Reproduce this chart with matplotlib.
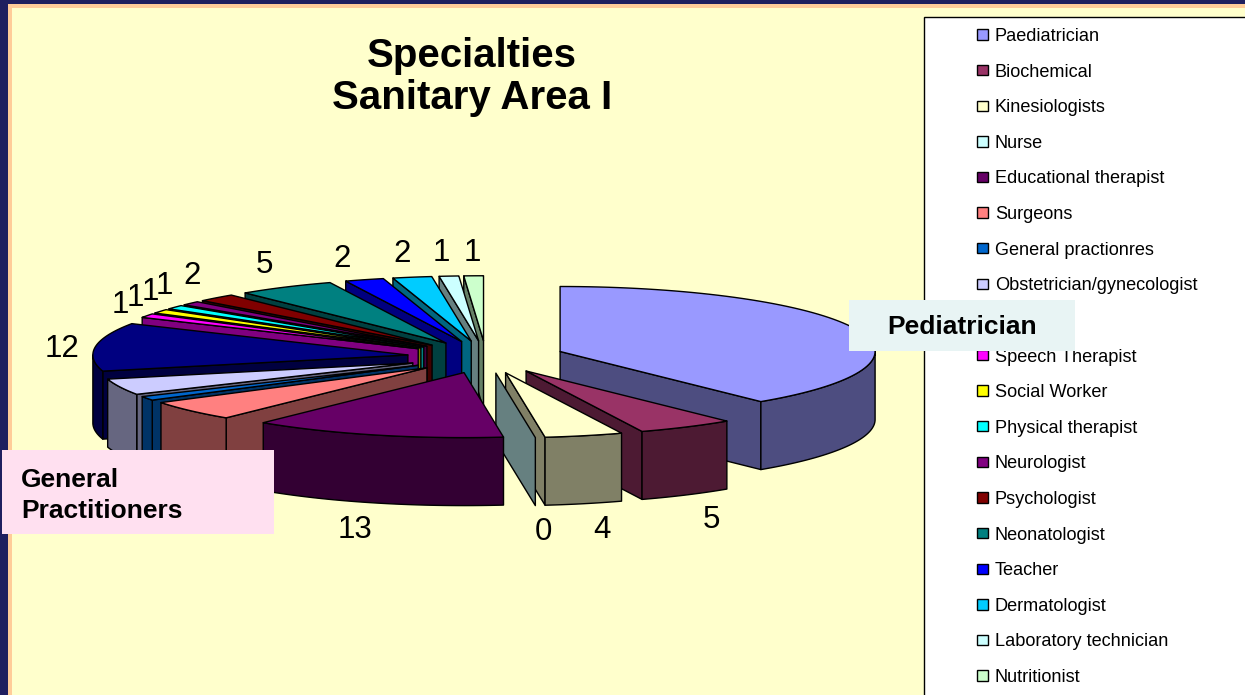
import numpy as np
import matplotlib
matplotlib.use('Agg')
import matplotlib.pyplot as plt
from matplotlib.patches import Polygon, Rectangle, Patch

plt.rcParams['font.family'] = ['Liberation Sans', 'DejaVu Sans']

# the name of the 12 slice sits under the Pediatrician box in the reference
specialties = ['Paediatrician', 'Biochemical', 'Kinesiologists', 'Nurse', 'Educational therapist',
               'Surgeons', 'General practionres', 'Obstetrician/gynecologist', '',
               'Speech Therapist', 'Social Worker', 'Physical therapist', 'Neurologist',
               'Psychologist', 'Neonatologist', 'Teacher', 'Dermatologist',
               'Laboratory technician', 'Nutritionist']
counts = [39, 5, 4, 0, 13, 5, 1, 4, 12, 1, 1, 1, 1, 2, 5, 2, 2, 1, 1]
colors = ['#9999FF', '#993366', '#FFFFCC', '#CCFFFF', '#660066', '#FF8080', '#0066CC', '#CCCCFF',
          '#000080', '#FF00FF', '#FFFF00', '#00FFFF', '#800080', '#800000', '#008080', '#0000FF',
          '#00CCFF', '#CCFFFF', '#CCFFCC']

# pixel spots of the value labels that can be seen (others are under the boxes)
label_spots = {1: (711, 520), 2: (602, 530), 3: (543, 532), 4: (355, 530), 8: (62, 349),
               9: (120, 305), 10: (135, 298), 11: (150, 292), 12: (164, 286), 13: (192, 276),
               14: (264, 265), 15: (342, 259), 16: (402, 254), 17: (441, 253), 18: (472, 253)}

CX, CY = 486, 357
A, B = 315, 65
DEPTH = 68
EXPLODE = 0.25

fig = plt.figure(figsize=(12.45, 6.95), dpi=100, facecolor='#1F1F5F')
ax = fig.add_axes([0, 0, 1, 1])
ax.set_xlim(0, 1245)
ax.set_ylim(695, 0)
ax.axis('off')

# slide background
ax.add_patch(Rectangle((8, 4), 1300, 800, fc='#FFCC99', ec='none', zorder=0))
ax.add_patch(Rectangle((12, 8), 1300, 800, fc='#FFFFCC', ec='none', zorder=0))


def darker(c):
    rgb = np.array(matplotlib.colors.to_rgb(c))
    return tuple(rgb * 0.5)


def rim(th, ox, oy):
    return np.column_stack((ox + A * np.sin(th), oy - B * np.cos(th)))


def draw_slice(i, z):
    t1, t2 = edges[i], edges[i + 1]
    mid = (t1 + t2) / 2
    ox = CX + EXPLODE * A * np.sin(mid)
    oy = CY - EXPLODE * B * np.cos(mid)
    side = darker(colors[i])
    kw = dict(ec='black', lw=1, joinstyle='round')
    apex = np.array([ox, oy])
    down = np.array([0, DEPTH])
    # cut faces
    if np.sin(t1) < 0 and t2 > t1:
        p = rim(np.array([t1]), ox, oy)[0]
        ax.add_patch(Polygon([apex, p, p + down, apex + down], fc=side, zorder=z, **kw))
    if np.sin(t2) > 0:
        p = rim(np.array([t2]), ox, oy)[0]
        ax.add_patch(Polygon([apex, p, p + down, apex + down], fc=side, zorder=z, **kw))
    # outer wall, front half only
    lo, hi = max(t1, np.pi / 2), min(t2, 3 * np.pi / 2)
    if hi > lo:
        arc = rim(np.linspace(lo, hi, 60), ox, oy)
        ax.add_patch(Polygon(np.vstack((arc, arc[::-1] + down)), fc=side, zorder=z, **kw))
    # top
    if t2 > t1:
        arc = rim(np.linspace(t1, t2, 80), ox, oy)
        ax.add_patch(Polygon(np.vstack((apex, arc)), fc=colors[i], zorder=z, **kw))


edges = np.concatenate(([0], np.cumsum(counts))) / sum(counts) * 2 * np.pi
mids = (edges[:-1] + edges[1:]) / 2
order = list(np.argsort(-np.cos(mids)))
# Educational therapist slice goes in front of the Nurse face
order.remove(4)
order.append(4)
for n, i in enumerate(order):
    draw_slice(i, 2 + n * 0.01)

for i, (x, y) in label_spots.items():
    ax.text(x, y, str(counts[i]), fontsize=22.5, ha='center', va='center', color='black', zorder=4)

ax.text(472, 56, 'Specialties', fontsize=29, fontweight='bold', ha='center', va='center', zorder=4)
ax.text(472, 98, 'Sanitary Area I', fontsize=29, fontweight='bold', ha='center', va='center', zorder=4)

# legend, its box runs off the slide
ax.add_patch(Rectangle((924, 17), 400, 800, fc='white', ec='black', lw=1, zorder=3))
handles = [Patch(fc=c, ec='black', lw=1) for c in colors]
FS = 13.1
leg = ax.legend(handles, specialties, loc='upper left', bbox_to_anchor=(977, 28),
                bbox_transform=ax.transData, frameon=False, fontsize=FS, borderpad=0,
                borderaxespad=0, handlelength=0.6, handleheight=0.5, handletextpad=0.38,
                labelspacing=1.023)
leg.set_zorder(4)

# callouts
ax.add_patch(Rectangle((849, 300), 226, 51, fc='#E8F4F4', ec='none', zorder=6))
ax.text(887, 327, 'Pediatrician', fontsize=19, fontweight='bold', va='center', zorder=7)
ax.add_patch(Rectangle((2, 450), 272, 84, fc='#FFE0F0', ec='none', zorder=6))
ax.text(21, 480, 'General', fontsize=19, fontweight='bold', va='center', zorder=7)
ax.text(21, 511, 'Practitioners', fontsize=19, fontweight='bold', va='center', zorder=7)

fig.savefig('out.png', dpi=100, facecolor=fig.get_facecolor())
